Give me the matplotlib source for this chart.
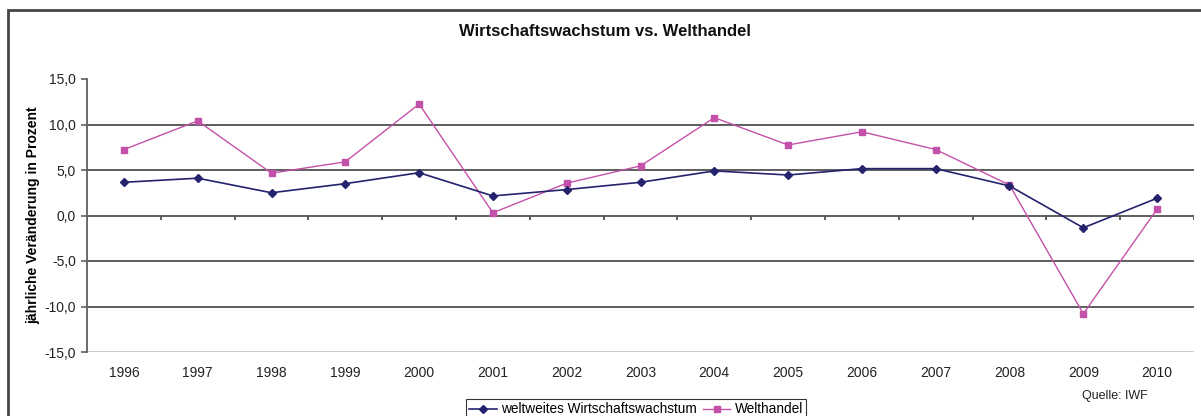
import matplotlib
matplotlib.use("Agg")
import matplotlib.pyplot as plt
from matplotlib.patches import Rectangle
from matplotlib.lines import Line2D

years = ["1996", "1997", "1998", "1999", "2000", "2001", "2002", "2003",
         "2004", "2005", "2006", "2007", "2008", "2009", "2010"]
wachstum = [3.65, 4.1, 2.5, 3.5, 4.7, 2.15, 2.85, 3.65, 4.9, 4.45, 5.15, 5.15, 3.25, -1.35, 1.9]
welthandel = [7.25, 10.4, 4.65, 5.9, 12.25, 0.3, 3.55, 5.45, 10.75, 7.75, 9.2, 7.25, 3.35, -10.8, 0.7]
yticks = [-15, -10, -5, 0, 5, 10, 15]

plt.rcParams['font.family'] = ['Liberation Sans', 'DejaVu Sans']

W, H = 1201, 416
fig = plt.figure(figsize=(W / 100, H / 100), dpi=100)
fig.patch.set_facecolor('white')

# outer chart frame
fig.patches.append(Rectangle((8 / W, -0.1), 1.2, 1 - 10 / H + 0.1, transform=fig.transFigure,
                             fill=False, edgecolor='#454545', linewidth=2.0, zorder=0))

ax = fig.add_axes([87 / W, 1 - 352 / H, (1194 - 87) / W, (352 - 79) / H])
x = list(range(len(years)))
blue = '#25236E'
pink = '#C451A9'

ax.set_xlim(-0.5, len(years) - 0.5)
ax.set_ylim(-15, 15)

for v in yticks[1:-1]:
    ax.axhline(v, color='#505050', linewidth=1.3, zorder=1)
ax.axhline(-15, color='#c8c8c8', linewidth=2.0, zorder=1)

# category tick marks on the zero axis
ax.vlines([i - 0.5 for i in range(len(years) + 1)], 0, -0.5, color='#505050', linewidth=1.3, zorder=1)

ax.plot(x, welthandel, color=pink, linewidth=1.0, marker='s', markersize=5,
        markerfacecolor=pink, markeredgecolor=pink, zorder=3, label='Welthandel')
ax.plot(x, wachstum, color=blue, linewidth=1.2, marker='D', markersize=4.5,
        markerfacecolor=blue, markeredgecolor=blue, zorder=4, label='weltweites Wirtschaftswachstum')

for s in ['top', 'right', 'bottom']:
    ax.spines[s].set_visible(False)
ax.spines['left'].set_color('#606060')
ax.spines['left'].set_linewidth(1.3)

ax.set_yticks(yticks)
ax.set_yticklabels([f"{v:.1f}".replace('.', ',') for v in yticks], fontsize=10, color='#222222')
ax.tick_params(axis='y', length=4, width=1.2, color='#606060', pad=4)
ax.set_xticks(x)
ax.set_xticklabels(years, fontsize=10, color='#222222')
ax.tick_params(axis='x', length=0, pad=10)

ax.set_ylabel('jährliche Veränderung in Prozent', fontsize=10, fontweight='bold', labelpad=3)

fig.text(605 / W, 1 - 32 / H, 'Wirtschaftswachstum vs. Welthandel', ha='center', va='center',
         fontsize=12, fontweight='bold', color='#111111')
fig.text(1115 / W, 1 - 396 / H, 'Quelle: IWF', ha='center', va='center', fontsize=9, color='#222222')

handles = [Line2D([], [], color=blue, marker='D', markersize=4.5, linewidth=1.2),
           Line2D([], [], color=pink, marker='s', markersize=5, linewidth=1.0)]
leg = fig.legend(handles, ['weltweites Wirtschaftswachstum', 'Welthandel'], loc='upper left',
                 bbox_to_anchor=(466 / W, 1 - 399 / H), ncol=2, fontsize=9.8, frameon=True,
                 fancybox=False, edgecolor='black', handlelength=2.0, handletextpad=0.3,
                 columnspacing=0.5, borderpad=0.25, borderaxespad=0)
leg.get_frame().set_linewidth(0.8)

fig.savefig('out.png', dpi=100, facecolor='white')
